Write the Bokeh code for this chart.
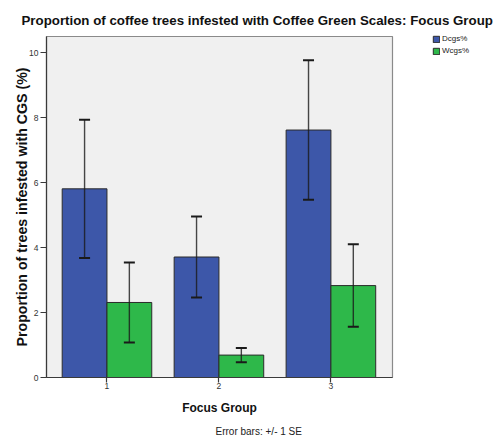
from bokeh.plotting import figure
from bokeh.models import (ColumnDataSource, Whisker, Legend, LegendItem, Range1d,
                          FixedTicker, Title)
from bokeh.transform import dodge
from bokeh.embed import file_html
from bokeh.resources import INLINE

# ---- data ----
groups = [1, 2, 3]
dcgs = [5.81, 3.71, 7.62]
dcgs_se = [2.13, 1.25, 2.15]
wcgs = [2.31, 0.69, 2.83]
wcgs_se = [1.23, 0.22, 1.27]
series_names = ["Dcgs%", "Wcgs%"]
y_ticks = [0, 2, 4, 6, 8, 10]

title_text = "Proportion of coffee trees infested with Coffee Green Scales: Focus Group"
x_title = "Focus Group"
y_title = "Proportion of trees infested with CGS (%)"
note_text = "Error bars: +/- 1 SE"

BLUE = "#3D57A9"
GREEN = "#2EB84A"
BG = "#F0F0F0"
FONT = "Liberation Sans"

src = ColumnDataSource(dict(
    x=groups,
    d=dcgs, d_lo=[v - e for v, e in zip(dcgs, dcgs_se)], d_hi=[v + e for v, e in zip(dcgs, dcgs_se)],
    w=wcgs, w_lo=[v - e for v, e in zip(wcgs, wcgs_se)], w_hi=[v + e for v, e in zip(wcgs, wcgs_se)],
))

p = figure(frame_width=346, frame_height=341, output_backend="svg", toolbar_location=None,
           x_range=Range1d(0.46, 3.55), y_range=Range1d(0, 10.5),
           min_border_left=46, min_border_right=103, min_border_top=36, min_border_bottom=60)
p.title = Title(text=title_text, align="left", offset=-25, text_font=FONT,
                text_font_size="13.3px", text_font_style="bold", text_color="#111111",
                standoff=17)
p.background_fill_color = BG
p.border_fill_color = "white"
p.outline_line_color = "#8A8A8A"
p.outline_line_width = 1.2
p.xgrid.visible = False
p.ygrid.visible = False

bw = 0.4
rd = p.vbar(x=dodge("x", -bw / 2), top="d", width=bw, source=src,
            fill_color=BLUE, line_color="#2B2B2B", line_width=1)
rw = p.vbar(x=dodge("x", bw / 2), top="w", width=bw, source=src,
            fill_color=GREEN, line_color="#2B2B2B", line_width=1)

for lo, hi, off in (("d_lo", "d_hi", -bw / 2), ("w_lo", "w_hi", bw / 2)):
    wk = Whisker(base=dodge("x", off), lower=lo, upper=hi, source=src, level="annotation",
                 line_color="#1A1A1A", line_width=1.4, line_alpha=0.8)
    for h in (wk.upper_head, wk.lower_head):
        h.size = 11
        h.line_color = "#1A1A1A"
        h.line_width = 2
    p.add_layout(wk)

# axes
for ax in (p.xaxis[0], p.yaxis[0]):
    ax.axis_line_color = "#3A3A3A"
    ax.axis_line_width = 1.2
    ax.major_tick_line_color = "#3A3A3A"
    ax.major_tick_line_width = 1.2
    ax.major_tick_in = 0
    ax.major_tick_out = 6
    ax.minor_tick_line_color = None
    ax.major_label_text_font = FONT
    ax.major_label_text_font_size = "8.5px"
    ax.major_label_text_color = "#333333"
    ax.major_label_standoff = 2
    ax.axis_label_text_font = FONT
    ax.axis_label_text_font_style = "bold"
    ax.axis_label_text_color = "#111111"
p.xaxis.ticker = FixedTicker(ticks=groups)
p.yaxis.ticker = FixedTicker(ticks=y_ticks)
p.xaxis.major_tick_out = 5
p.xaxis.major_label_standoff = 0
p.xaxis.axis_label = x_title
p.xaxis.axis_label_text_font_size = "12px"
p.xaxis.axis_label_standoff = 9
p.yaxis.axis_label = y_title
p.yaxis.axis_label_text_font_size = "14.2px"
p.yaxis.axis_label_standoff = -4

# note below
p.add_layout(Title(text=note_text, align="left", offset=169, text_font=FONT,
                   text_font_size="10px", text_font_style="normal", text_color="#222222",
                   standoff=13), "below")

# legend
legend = Legend(items=[LegendItem(label=series_names[0], renderers=[rd]),
                       LegendItem(label=series_names[1], renderers=[rw])],
                location=(40, 322), orientation="vertical",
                glyph_width=8, glyph_height=8, label_width=20, label_height=8,
                label_standoff=2, spacing=3, padding=1, margin=0,
                border_line_color=None, background_fill_alpha=0,
                label_text_font=FONT, label_text_font_size="8px",
                label_text_color="#222222")
p.add_layout(legend, "right")

open("out.html", "w").write(file_html(p, INLINE))
